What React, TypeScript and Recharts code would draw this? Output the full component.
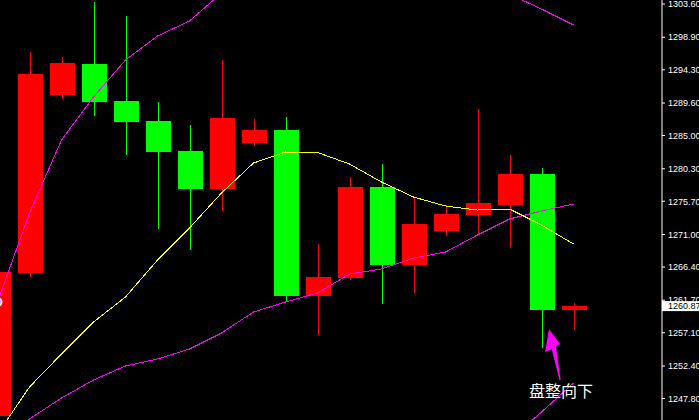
import React from 'react';
import {
  ComposedChart,
  Bar,
  Line,
  XAxis,
  YAxis,
  ReferenceDot,
} from 'recharts';

// candles, oldest first (red = up, green = down)
const bars = ['b01', 'b02', 'b03', 'b04', 'b05', 'b06', 'b07', 'b08', 'b09', 'b10', 'b11', 'b12', 'b13', 'b14', 'b15', 'b16', 'b17', 'b18', 'b19'];
const opens = [1245.33, 1265.55, 1290.73, 1295.11, 1289.88, 1287.05, 1282.81, 1277.43, 1283.94, 1285.78, 1262.3, 1264.85, 1277.72, 1266.68, 1271.49, 1273.76, 1275.17, 1279.55, 1260.32];
const highs = [1265.98, 1296.81, 1296.1, 1303.88, 1301.9, 1289.74, 1286.49, 1295.68, 1287.33, 1287.62, 1269.65, 1279.13, 1280.97, 1276.3, 1275.17, 1288.75, 1282.24, 1280.4, 1261.31];
const lows = [1244.9, 1264.99, 1290.16, 1287.76, 1282.24, 1271.78, 1268.81, 1274.32, 1283.52, 1261.45, 1256.78, 1264.56, 1261.17, 1262.72, 1270.79, 1270.93, 1269.09, 1254.94, 1257.49];
const closes = [1265.69, 1293.7, 1295.25, 1289.74, 1286.91, 1282.67, 1277.43, 1287.48, 1285.78, 1262.3, 1264.99, 1277.72, 1266.68, 1272.48, 1273.9, 1275.45, 1279.55, 1260.32, 1260.87];

const maYellow = [1242.78, 1249.43, 1254.1, 1258.62, 1262.16, 1267.39, 1271.92, 1276.87, 1281.11, 1282.67, 1282.6, 1280.97, 1278.42, 1276.3, 1275.03, 1274.46, 1274.6, 1272.34, 1269.65];
const bandMid = [1239.81, 1244.9, 1247.87, 1250.42, 1252.4, 1253.39, 1254.8, 1257.07, 1260.04, 1261.45, 1262.72, 1265.41, 1266.12, 1267.67, 1268.52, 1270.93, 1273.19, 1274.32, 1275.31];
const bandUpper = [1261.45, 1274.04, 1284.36, 1290.45, 1295.68, 1299.07, 1301.2, 1305.16, 1306.71, 1307.28, 1308.13, 1308.69, 1308.83, 1308.55, 1307.98, 1306.85, 1305.01, 1302.89, 1300.63];
const bandLower = [1205, 1212, 1218, 1222, 1226, 1229, 1232, 1234, 1236, 1237, 1238, 1238.5, 1239, 1239.5, 1240, 1240.5, 1241.93, 1245.89, 1249.99];

const priceTicks = [1303.6, 1298.9, 1294.3, 1289.6, 1285.0, 1280.3, 1275.7, 1271.0, 1266.4, 1261.7, 1257.1, 1252.4, 1247.8];
const LAST_PRICE = 1260.87;
const NOTE = '盘整向下';

const UP = '#FF0000';
const DOWN = '#00FF00';
const MAGENTA = '#FF00FF';

const data = bars.map((name, i) => ({
  name,
  open: opens[i],
  high: highs[i],
  low: lows[i],
  close: closes[i],
  range: [lows[i], highs[i]],
  ma: maYellow[i],
  mid: bandMid[i],
  upper: bandUpper[i],
  lower: bandLower[i],
}));

const Candle = (props: any) => {
  const { x, y, width, height, payload } = props;
  if (payload == null || payload.open == null) return null;
  const { open, high, low, close } = payload;
  const top = Math.min(y, y + height);
  const bottom = Math.max(y, y + height);
  const px = (v: number) => top + ((high - v) / (high - low || 1)) * (bottom - top);
  const color = close >= open ? UP : DOWN;
  const cx = x + width / 2;
  const bodyTop = px(Math.max(open, close));
  const bodyBottom = px(Math.min(open, close));
  return (
    <g shapeRendering="crispEdges">
      <line x1={cx} x2={cx} y1={top} y2={bottom} stroke={color} strokeWidth={1} />
      <rect x={x} y={bodyTop} width={width} height={Math.max(bodyBottom - bodyTop, 1)} fill={color} />
    </g>
  );
};

const PriceTick = (props: any) => {
  const { x, y, payload } = props;
  const v = payload.value;
  const label = v.toFixed(2);
  if (v === LAST_PRICE) {
    return (
      <g>
        <rect x={x - 6} y={y - 5} width={60} height={10} fill="#FFFFFF" />
        <text x={x} y={y} dy="0.36em" fill="#000000" fontSize={9} fontFamily="Liberation Sans">
          {label}
        </text>
      </g>
    );
  }
  return (
    <text x={x} y={y} dy="0.36em" fill="#FFFFFF" fontSize={9} fontFamily="Liberation Sans">
      {label}
    </text>
  );
};

// arrow + note, anchored at the low of the big green candle
const Note = (props: any) => {
  const { cx, cy } = props;
  const tx = cx + 7.5;
  const ty = cy - 19;
  const pts = [
    [0, 0],
    [11, 15],
    [7, 17.5],
    [11.7, 51],
    [10.5, 51],
    [2.7, 20.3],
    [-4, 23],
  ]
    .map(([dx, dy]) => `${tx + dx},${ty + dy}`)
    .join(' ');
  return (
    <g>
      <polygon points={pts} fill={MAGENTA} />
      <text x={cx - 12.5} y={cy + 49} fill="#FFFFFF" fontSize={16} fontFamily="Noto Sans CJK SC">
        {NOTE}
      </text>
    </g>
  );
};

const App = () => {
  return (
    <div style={{ position: 'fixed', left: 0, top: 0, width: 699, height: 420, background: '#000000', overflow: 'hidden' }}>
      <ComposedChart width={722} height={420} data={data} margin={{ top: 0, right: 0, bottom: 0, left: -18.5 }}>
        <XAxis dataKey="name" hide padding={{ left: 0, right: 72.5 }} />
        <YAxis
          orientation="right"
          width={60}
          domain={[1244.76, 1304.17]}
          allowDataOverflow
          ticks={[...priceTicks, LAST_PRICE]}
          interval={0}
          stroke="#FFFFFF"
          tickSize={3}
          tickMargin={3}
          tick={<PriceTick />}
        />
        <Bar dataKey="range" barSize={25} shape={<Candle />} isAnimationActive={false} />
        <Line dataKey="upper" type="linear" stroke={MAGENTA} strokeWidth={1} dot={false} shapeRendering="crispEdges" isAnimationActive={false} />
        <Line dataKey="mid" type="linear" stroke={MAGENTA} strokeWidth={1} dot={false} shapeRendering="crispEdges" isAnimationActive={false} />
        <Line dataKey="lower" type="linear" stroke={MAGENTA} strokeWidth={1} dot={false} shapeRendering="crispEdges" isAnimationActive={false} />
        <Line dataKey="ma" type="linear" stroke="#FFFF00" strokeWidth={1} dot={false} shapeRendering="crispEdges" isAnimationActive={false} />
        <ReferenceDot x={bars[17]} y={lows[17]} r={0} shape={<Note />} ifOverflow="visible" />
      </ComposedChart>
    </div>
  );
};

export default App;
